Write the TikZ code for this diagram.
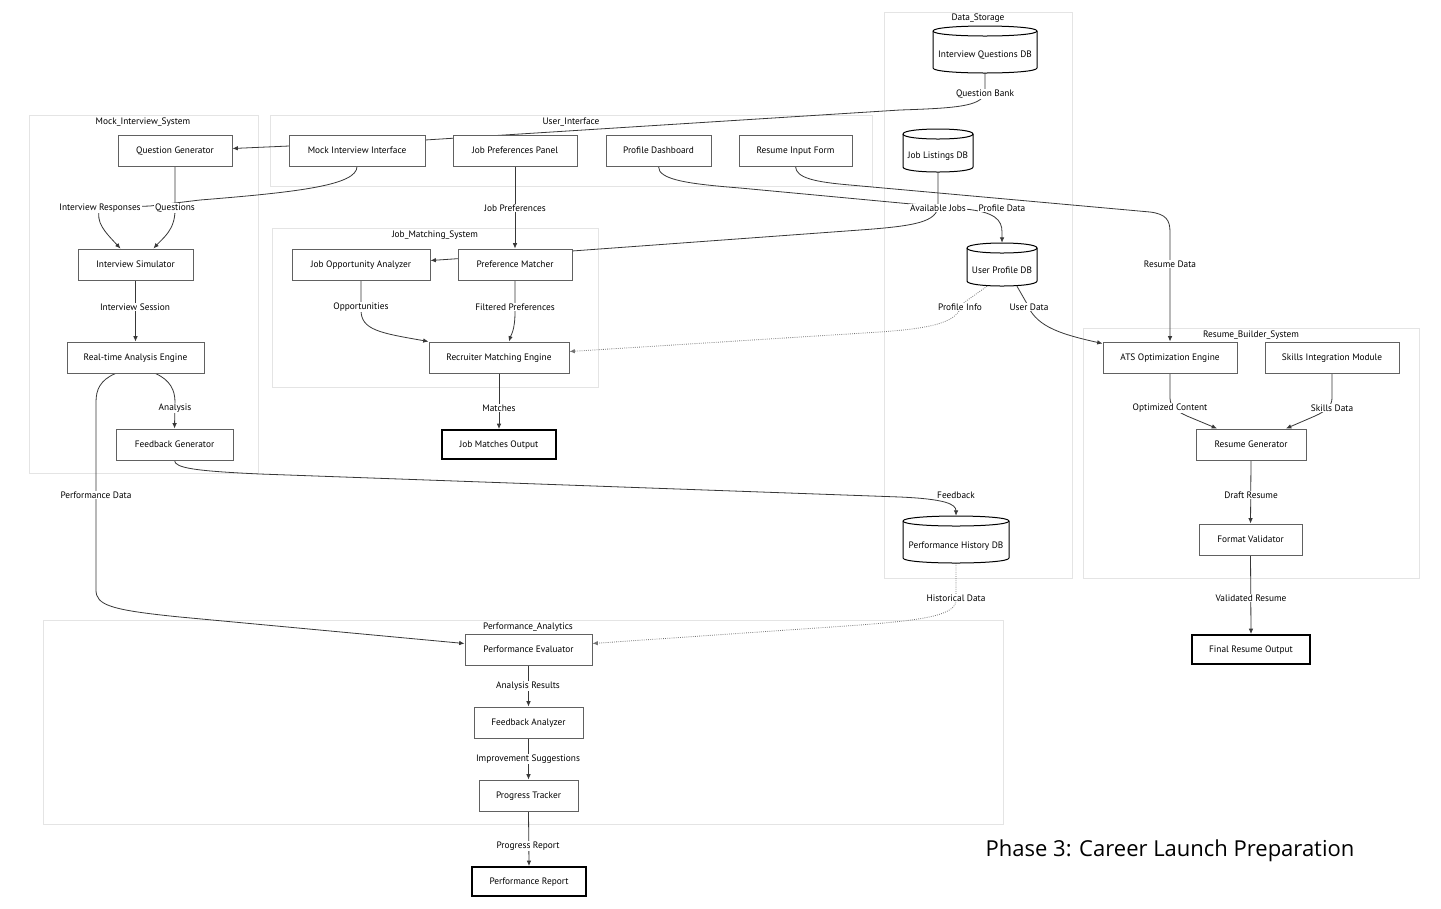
\documentclass[tikz,border=0pt]{standalone}
\usepackage{fontspec}
\setmainfont{PT Sans}
\newfontfamily\titlefont{Open Sans}
\usetikzlibrary{arrows.meta,fit,calc}
\pgfdeclarelayer{clusters}
\pgfdeclarelayer{edges}
\pgfsetlayers{clusters,edges,main}
\newcommand{\nfont}{\fontsize{7}{8}\selectfont}
\newcommand{\bx}[7][box]{\node[#1, minimum width={(#5-#3)*0.75pt}, minimum height={(#6-#4)*0.75pt}] (#2) at ({(#3+#5)/2},{(#4+#6)/2}) {#7};}
\newcommand{\dbcyl}[7]{%
  \path[dbshape] ({#2-#4},{#3-#5+5}) -- ({#2-#4},{#3+#5-5}) .. controls ({#2-#4},{#3+#5+1.67}) and ({#2+#4},{#3+#5+1.67}) .. ({#2+#4},{#3+#5-5}) -- ({#2+#4},{#3-#5+5}) .. controls ({#2+#4},{#3-#5-1.67}) and ({#2-#4},{#3-#5-1.67}) .. cycle;
  \draw[dbline] ({#2-#4},{#3-#5+5}) .. controls ({#2-#4},{#3-#5+11.67}) and ({#2+#4},{#3-#5+11.67}) .. ({#2+#4},{#3-#5+5});
  \node[inner sep=0, minimum width={2*#4*0.75pt}, minimum height={2*#5*0.75pt}] (#1) at (#2,#3) {};
  \node[font=\nfont, inner sep=0] (#1t) at (#2,#6) {#7};}
\begin{document}
\begin{tikzpicture}[x=0.75pt,y=-0.75pt,
  cluster/.style={draw={rgb,255:red,228;green,228;blue,228}, line width=0.6pt, fill=white},
  ctitle/.style={font=\nfont, inner sep=0},
  box/.style={draw=black!62, fill=white, line width=0.75pt, inner sep=0, font=\nfont, text height=5.3pt, text depth=1.3pt},
  outbox/.style={draw=black, fill=white, line width=1.5pt, inner sep=0, font=\nfont, text height=5.3pt, text depth=1.3pt},
  dbshape/.style={draw=black, fill=white, line width=0.75pt},
  dbline/.style={draw=black, line width=0.75pt},
  edge/.style={draw=black!78, line width=0.6pt, -{Latex[length=4pt,width=3.4pt]}},
  dotedge/.style={draw=black!55, line width=0.6pt, densely dotted, -{Latex[length=4pt,width=3.4pt]}},
  lbl/.style={fill=white, inner sep=0.8pt, font=\nfont}]
\useasboundingbox (0,0) rectangle (1441,908);
\begin{pgfonlayer}{clusters}
\fill[white] (0,0) rectangle (1441,908);
\node[cluster, fit={(884,12) (1072,578)}, inner sep=0] (cds) {};
\node[cluster, fit={(29,115) (258,473)}, inner sep=0] (cmi) {};
\node[cluster, fit={(270,115) (872,186)}, inner sep=0] (cui) {};
\node[cluster, fit={(272,228) (598,387)}, inner sep=0] (cjm) {};
\node[cluster, fit={(1083,328) (1419,578)}, inner sep=0] (crb) {};
\node[cluster, fit={(43,620) (1003,824)}, inner sep=0] (cpa) {};
\end{pgfonlayer}
\node[ctitle] (cdst) at (978,18) {Data\_Storage};
\node[ctitle] (cmit) at (143,122) {Mock\_Interview\_System};
\node[ctitle] (cuit) at (571,122) {User\_Interface};
\node[ctitle] (cjmt) at (435,235) {Job\_Matching\_System};
\node[ctitle] (crbt) at (1251,335) {Resume\_Builder\_System};
\node[ctitle] (cpat) at (528,627) {Performance\_Analytics};
% nodes
\bx{qg}{118}{135}{232}{166}{Question Generator}
\bx{mii}{289}{135}{425}{166}{Mock Interview Interface}
\bx{jpp}{453}{135}{577}{166}{Job Preferences Panel}
\bx{pd}{606}{135}{711}{166}{Profile Dashboard}
\bx{rif}{739}{135}{852}{166}{Resume Input Form}
\bx{is}{78}{249}{193}{280}{Interview Simulator}
\bx{rae}{67}{342}{204}{373}{Real-time Analysis Engine}
\bx{fg}{116}{429}{233}{460}{Feedback Generator}
\bx{joa}{292}{249}{430}{280}{Job Opportunity Analyzer}
\bx{pm}{458}{249}{572}{280}{Preference Matcher}
\bx{rme}{429}{342}{569}{373}{Recruiter Matching Engine}
\bx[outbox]{jmo}{442}{430}{556}{459}{Job Matches Output}
\bx{ats}{1103}{342}{1237}{373}{ATS Optimization Engine}
\bx{sim}{1265}{342}{1399}{373}{Skills Integration Module}
\bx{rg}{1196}{429}{1306}{460}{Resume Generator}
\bx{fv}{1199}{524}{1302}{555}{Format Validator}
\bx[outbox]{fro}{1192}{635}{1310}{664}{Final Resume Output}
\bx{pe}{465}{634}{592}{665}{Performance Evaluator}
\bx{fa}{474}{707}{583}{738}{Feedback Analyzer}
\bx{pt}{479}{780}{578}{811}{Progress Tracker}
\bx[outbox]{pr}{472}{867}{586}{896}{Performance Report}
\dbcyl{iqdb}{985}{49.5}{52}{23.5}{55}{Interview Questions DB}
\dbcyl{jldb}{938}{150.5}{35}{21.5}{156}{Job Listings DB}
\dbcyl{updb}{1002}{264.5}{35}{21.5}{270}{User Profile DB}
\dbcyl{phdb}{956}{539.5}{53}{23.5}{546}{Performance History DB}
% edges
\begin{pgfonlayer}{edges}
\draw[edge] (iqdb.south) -- (985,90) .. controls (985,106) and (960,108) .. (900,110) -- (425,140) -- ($(qg.east)+(0,-2)$);
\draw[edge] (mii.south) .. controls (357,185) and (300,192) .. (200,200) -- (150,206) -- (100,208) .. controls (95,222) and (105,232) .. ($(is.north)+(-15,0)$);
\draw[edge] (qg.south) -- (175,210) .. controls (175,230) and (163,238) .. ($(is.north)+(18,0)$);
\draw[edge] (is.south) -- (rae.north);
\draw[edge] ($(rae.south)+(20,0)$) .. controls (170,380) and (175,390) .. (175,402) -- (fg.north);
\draw[edge] ($(rae.south)+(-20,0)$) .. controls (100,380) and (96,390) .. (96,402) -- (96,590) .. controls (96,605) and (110,610) .. (180,617) -- ($(pe.west)+(0,-6)$);
\draw[edge] (jpp.south) -- (pm.north);
\draw[edge] (jldb.south) -- (938,205) .. controls (938,222) and (915,226) .. (860,230) -- (572,251) -- ($(joa.east)+(0,-4)$);
\draw[edge] (pd.south) .. controls (658,180) and (690,184) .. (740,188) -- (965,209) .. controls (995,212) and (1002,220) .. (1002,232) -- (updb.north);
\draw[edge] (rif.south) .. controls (796,178) and (815,182) .. (850,185) -- (1150,212) .. controls (1166,214) and (1170,220) .. (1170,232) -- (ats.north);
\draw[dotedge] ($(updb.south)+(-15,0)$) -- (962,304) .. controls (958,322) and (935,328) .. (880,332) -- ($(rme.east)+(0,-6)$);
\draw[edge] ($(updb.south)+(15,0)$) -- (1026,302) .. controls (1035,325) and (1055,333) .. ($(ats.west)+(0,-14)$);
\draw[edge] (joa.south) -- (361,310) .. controls (361,330) and (380,333) .. (rme.north west);
\draw[edge] (pm.south) -- (515,312) .. controls (515,330) and (511,335) .. ($(rme.north)+(10,0)$);
\draw[edge] (rme.south) -- (jmo.north);
\draw[edge] (fg.south) .. controls (175,468) and (195,471) .. (260,474) -- (900,497) .. controls (945,499) and (956,504) .. (phdb.north);
\draw[dotedge] (phdb.south) -- (956,600) .. controls (956,615) and (925,620) .. (860,625) -- ($(pe.east)+(0,-6)$);
\draw[edge] (pe.south) -- (fa.north);
\draw[edge] (fa.south) -- (pt.north);
\draw[edge] (pt.south) -- (pr.north);
\draw[edge] (ats.south) -- (1170,398) .. controls (1170,406) and (1176,411) .. (1187,416) -- ($(rg.north)+(-34,0)$);
\draw[edge] (sim.south) -- (1332,398) .. controls (1332,406) and (1326,411) .. (1315,416) -- ($(rg.north)+(35,0)$);
\draw[edge] (rg.south) -- (fv.north);
\draw[edge] (fv.south) -- (fro.north);
\end{pgfonlayer}
% edge labels
\node[lbl] (l1) at (985,94) {Question Bank};
\node[lbl] (l2) at (100,208) {Interview Responses};
\node[lbl] (l3) at (175,208) {Questions};
\node[lbl] (l4) at (135,307) {Interview Session};
\node[lbl] (l5) at (175,408) {Analysis};
\node[lbl] (l6) at (96,495) {Performance Data};
\node[lbl] (l7) at (515,208) {Job Preferences};
\node[lbl] (l8) at (938,208) {Available Jobs};
\node[lbl] (l9) at (1002,208) {Profile Data};
\node[lbl] (l10) at (1170,264) {Resume Data};
\node[lbl] (l11) at (960,307) {Profile Info};
\node[lbl] (l12) at (1029,307) {User Data};
\node[lbl] (l13) at (361,307) {Opportunities};
\node[lbl] (l14) at (515,307) {Filtered Preferences};
\node[lbl] (l15) at (499,408) {Matches};
\node[lbl] (l16) at (956,495) {Feedback};
\node[lbl] (l17) at (956,598) {Historical Data};
\node[lbl] (l18) at (528,686) {Analysis Results};
\node[lbl] (l19) at (528,759) {Improvement Suggestions};
\node[lbl] (l20) at (528,846) {Progress Report};
\node[lbl] (l21) at (1170,408) {Optimized Content};
\node[lbl] (l22) at (1332,408) {Skills Data};
\node[lbl] (l23) at (1251,495) {Draft Resume};
\node[lbl] (l24) at (1251,598) {Validated Resume};
\node[font=\titlefont\fontsize{16.5}{20}\selectfont, inner sep=0] (title) at (1170,851) {Phase 3: Career Launch Preparation};
\end{tikzpicture}
\end{document}
